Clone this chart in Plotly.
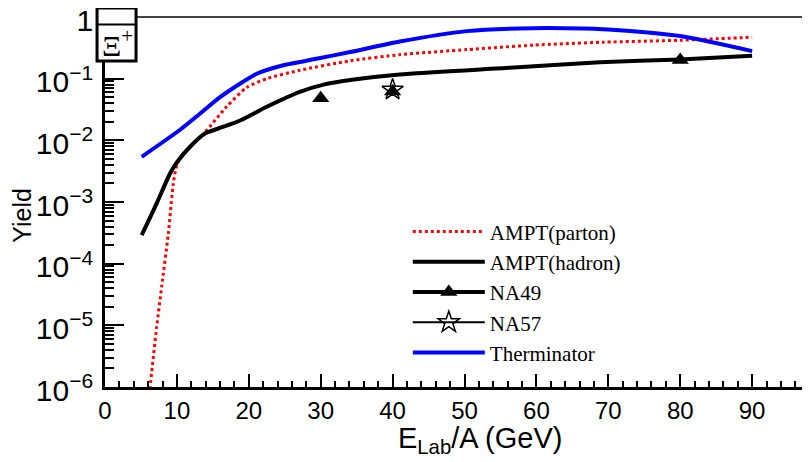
import plotly.graph_objects as go

# ---------------- data ----------------
parton_x = [6.0, 6.26, 7.19, 7.88, 8.81, 9.5, 10.06, 11.8, 13.9, 16.9, 19.7, 22.5, 27.1, 34.1, 41.0, 50.3, 59.6, 69.3, 80.0, 90.0]
parton_y = [6e-7, 1e-6, 9.5e-6, 4.2e-5, 3.1e-4, 2.0e-3, 4.2e-3, 7.8e-3, 0.0135, 0.035, 0.072, 0.10, 0.137, 0.195, 0.245, 0.296, 0.35, 0.39, 0.42, 0.47]

hadron_x = [5.1, 7.19, 9.04, 10.06, 11.8, 13.9, 16.4, 18.8, 22.5, 27.1, 30.4, 34.1, 41.0, 56.3, 68.8, 80.0, 90.0]
hadron_y = [2.9e-4, 9.5e-4, 2.9e-3, 4.5e-3, 7.8e-3, 0.0129, 0.0165, 0.021, 0.035, 0.061, 0.080, 0.095, 0.117, 0.15, 0.185, 0.205, 0.235]

therm_x = [5.1, 10.4, 13.2, 16.0, 19.2, 21.1, 24.8, 29.4, 34.1, 41.0, 50.3, 59.6, 66.5, 71.6, 80.0, 90.0]
therm_y = [5.4e-3, 0.0147, 0.027, 0.05, 0.089, 0.12, 0.165, 0.21, 0.27, 0.40, 0.59, 0.66, 0.65, 0.61, 0.49, 0.28]

na49_x = [30, None, 40, None, 80]
na49_y = [0.048, None, 0.062, None, 0.20]

na57_x = [40]
na57_y = [0.066]
na57_err = [0.012]

x_title = "E<sub>Lab</sub>/A (GeV)"
y_title = "Yield"
particle_label = "Ξ<sup>+</sup>"

fig = go.Figure()

fig.add_trace(go.Scatter(
    x=parton_x, y=parton_y, mode="lines", name="AMPT(parton)",
    line=dict(color="#ff0000", width=3, dash="3px,3px", shape="spline", smoothing=0.6),
    legendrank=1))
fig.add_trace(go.Scatter(
    x=hadron_x, y=hadron_y, mode="lines", name="AMPT(hadron)",
    line=dict(color="black", width=4, shape="spline", smoothing=0.6),
    legendrank=2))
fig.add_trace(go.Scatter(
    x=therm_x, y=therm_y, mode="lines", name="Therminator",
    line=dict(color="#0000ff", width=4, shape="spline", smoothing=0.6),
    legendrank=5))
fig.add_trace(go.Scatter(
    x=na49_x, y=na49_y, mode="lines+markers", name="NA49", connectgaps=False,
    line=dict(color="black", width=4),
    marker=dict(symbol="triangle-up", size=15, color="black"),
    legendrank=3))
fig.add_trace(go.Scatter(
    x=na57_x, y=na57_y, mode="lines+markers", name="NA57",
    line=dict(color="black", width=2),
    marker=dict(symbol="star-open", size=16, color="black", line=dict(width=1.5, color="black")),
    error_y=dict(type="data", array=na57_err, color="black", thickness=2, width=0),
    legendrank=4))

sans = "Liberation Sans, Arial, sans-serif"
serif = "Liberation Serif, Times New Roman, serif"
axis_font = dict(family=sans, size=24, color="black")

fig.update_xaxes(
    range=[0, 98.05], showline=True, linecolor="black", linewidth=3, automargin=False,
    ticks="inside", ticklen=13, tickwidth=2, tickcolor="black", dtick=10, tick0=0,
    minor=dict(ticks="inside", ticklen=6, tickwidth=2, tickcolor="black", dtick=2),
    showgrid=False, zeroline=False, tickfont=axis_font, ticklabeloverflow="allow",
)
fig.update_yaxes(
    type="log", range=[-6, 0], showline=True, linecolor="black", linewidth=3, automargin=False,
    ticks="inside", ticklen=19, tickwidth=2, tickcolor="black", dtick=1,
    exponentformat="power",
    minor=dict(ticks="inside", ticklen=9, tickwidth=2, tickcolor="black", dtick="D1"),
    showgrid=False, zeroline=False, tickfont=axis_font, ticklabelstandoff=4,
    ticklabelshift=3, ticklabeloverflow="allow",
)

# axis titles (placed as in the reference)
fig.add_annotation(xref="paper", yref="paper", x=0.532, y=-0.143, text=x_title,
                   showarrow=False, font=dict(family=sans, size=29, color="black"),
                   xanchor="center", yanchor="middle")
fig.add_annotation(xref="paper", yref="paper", x=-0.118, y=0.465, text=y_title, textangle=-90,
                   showarrow=False, font=dict(family=sans, size=25, color="black"),
                   xanchor="center", yanchor="middle")

# top frame line
fig.add_shape(type="line", xref="paper", yref="paper", x0=0, x1=1, y0=1, y1=1,
              line=dict(color="#444444", width=2), layer="above")
# label box
fig.add_shape(type="rect", xref="paper", yref="paper", x0=-0.0113, x1=0.044, y0=0.881, y1=1.0243,
              line=dict(color="black", width=3), fillcolor="white", layer="above")
fig.add_shape(type="line", xref="paper", yref="paper", x0=-0.0113, x1=0.044, y0=0.980, y1=0.980,
              line=dict(color="black", width=2), layer="above")
fig.add_annotation(xref="paper", yref="paper", x=0.0175, y=0.930, text=particle_label,
                   showarrow=False, font=dict(family=serif, size=30, color="black"),
                   xanchor="center", yanchor="middle")

# the page body adds an 8 px margin, so the figure is 8 px smaller than the window
fig.update_layout(
    width=802, height=454,
    margin=dict(l=97, r=0, t=9, b=75),
    paper_bgcolor="white", plot_bgcolor="white",
    showlegend=True,
    legend=dict(x=0.4295, y=0.475, xanchor="left", yanchor="top",
                font=dict(family=serif, size=21, color="black"),
                bgcolor="rgba(0,0,0,0)", borderwidth=0, itemwidth=72,
                traceorder="normal", tracegroupgap=0),
)

fig.write_html("out.html")
